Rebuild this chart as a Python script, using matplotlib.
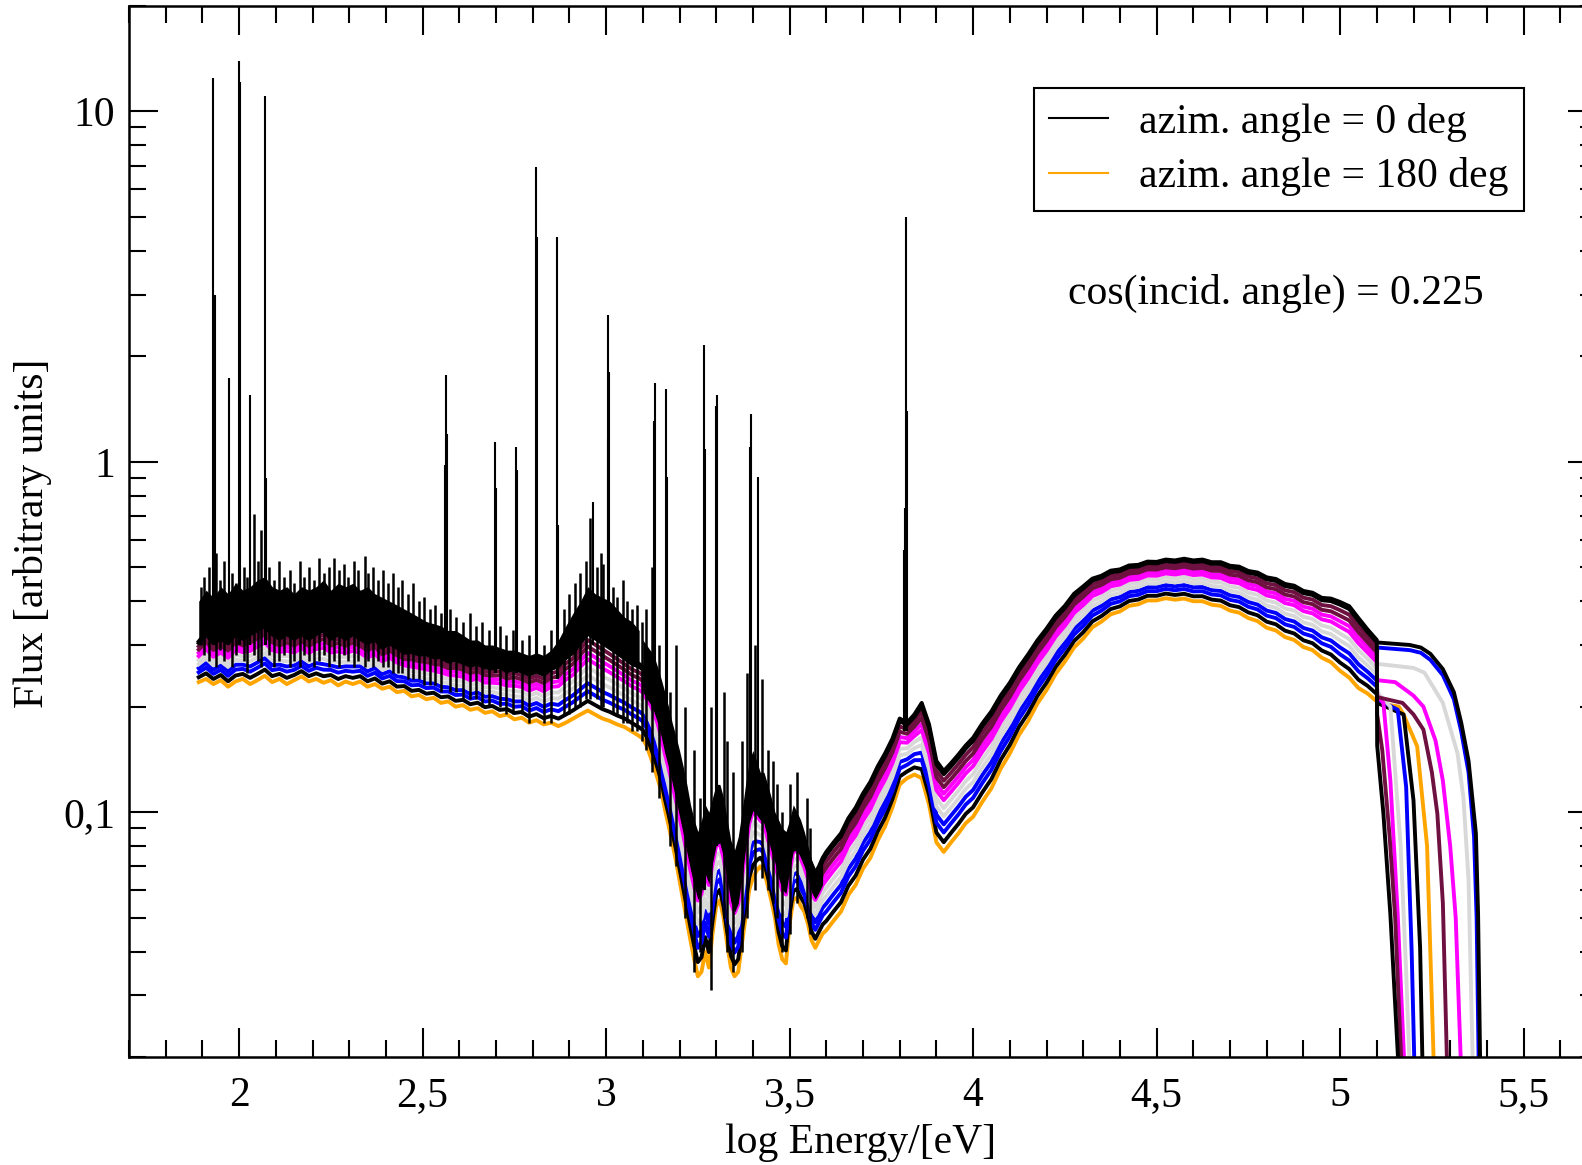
import numpy as np
import matplotlib.pyplot as plt
from matplotlib.ticker import MultipleLocator, LogLocator, NullFormatter

plt.rcParams['font.family'] = ['Liberation Serif', 'DejaVu Serif']

###################################################################
# data

# band edges (top = upper black curve, bot = lower orange curve), log Energy knots
segA_x = [1.89, 1.91, 1.93, 1.95, 1.97, 1.99, 2.01, 2.03, 2.05, 2.07, 2.09, 2.11, 2.13, 2.15, 2.17,
          2.19, 2.21, 2.23, 2.25, 2.27, 2.29, 2.31, 2.33, 2.35, 2.37, 2.39, 2.41, 2.43, 2.45, 2.47,
          2.49, 2.51, 2.53, 2.55, 2.57, 2.59, 2.61, 2.63, 2.65, 2.67, 2.69, 2.71, 2.73, 2.75, 2.77,
          2.79, 2.81, 2.83, 2.85, 2.87, 2.89, 2.91, 2.93, 2.95, 2.97, 2.99, 3.01, 3.03, 3.05, 3.07, 3.09]
top_A = [0.307, 0.326, 0.307, 0.316, 0.307, 0.326, 0.316, 0.326, 0.335, 0.344, 0.326, 0.316, 0.326, 0.316, 0.326,
         0.316, 0.326, 0.335, 0.316, 0.326, 0.316, 0.326, 0.316, 0.307, 0.316, 0.298, 0.307, 0.298, 0.288, 0.29,
         0.285, 0.285, 0.28, 0.28, 0.272, 0.275, 0.27, 0.265, 0.268, 0.262, 0.26, 0.263, 0.255, 0.26, 0.255,
         0.25, 0.255, 0.25, 0.26, 0.265, 0.28, 0.29, 0.31, 0.33, 0.32, 0.31, 0.30, 0.29, 0.28, 0.27, 0.265]
bot_A = [0.235, 0.24, 0.232, 0.238, 0.228, 0.236, 0.24, 0.232, 0.238, 0.245, 0.235, 0.24, 0.232, 0.238, 0.244,
         0.236, 0.24, 0.234, 0.238, 0.23, 0.236, 0.232, 0.236, 0.228, 0.232, 0.225, 0.228, 0.22, 0.222, 0.214,
         0.216, 0.21, 0.212, 0.205, 0.207, 0.2, 0.202, 0.196, 0.198, 0.192, 0.194, 0.188, 0.19, 0.184, 0.186,
         0.18, 0.183, 0.178, 0.18, 0.176, 0.18, 0.185, 0.19, 0.195, 0.19, 0.185, 0.182, 0.178, 0.175, 0.17, 0.165]
# upper edge of the dense black noise above the band
env_A = [0.40, 0.43, 0.41, 0.44, 0.42, 0.45, 0.43, 0.44, 0.46, 0.47, 0.44, 0.43, 0.44, 0.42, 0.44,
         0.43, 0.44, 0.46, 0.43, 0.45, 0.44, 0.45, 0.43, 0.44, 0.42, 0.41, 0.40, 0.39, 0.38, 0.37,
         0.36, 0.35, 0.345, 0.34, 0.33, 0.33, 0.32, 0.31, 0.31, 0.30, 0.30, 0.295, 0.29, 0.29, 0.285,
         0.28, 0.285, 0.28, 0.29, 0.31, 0.34, 0.37, 0.40, 0.44, 0.42, 0.41, 0.40, 0.38, 0.36, 0.35, 0.33]

segB_x = [3.10, 3.11, 3.12, 3.13, 3.14, 3.15, 3.16, 3.17, 3.18, 3.19, 3.20, 3.21, 3.22, 3.23, 3.24,
          3.25, 3.26, 3.27, 3.28, 3.29, 3.30, 3.31, 3.32, 3.33, 3.34, 3.35, 3.36, 3.37, 3.38, 3.39,
          3.40, 3.41, 3.42, 3.43, 3.44, 3.45, 3.46, 3.47, 3.48, 3.49, 3.50, 3.51, 3.52, 3.53, 3.54,
          3.55, 3.56, 3.57, 3.58, 3.59]
top_B = [0.26, 0.25, 0.245, 0.235, 0.22, 0.2, 0.18, 0.165, 0.15, 0.135, 0.122, 0.11, 0.098, 0.088, 0.08,
         0.074, 0.078, 0.088, 0.084, 0.092, 0.1, 0.1, 0.092, 0.08, 0.07, 0.065, 0.07, 0.082, 0.1, 0.118,
         0.128, 0.12, 0.112, 0.11, 0.1, 0.092, 0.087, 0.082, 0.077, 0.075, 0.082, 0.092, 0.092, 0.088, 0.082,
         0.076, 0.07, 0.067, 0.07, 0.074]
bot_B = [0.162, 0.155, 0.145, 0.135, 0.125, 0.115, 0.102, 0.092, 0.082, 0.073, 0.064, 0.056, 0.049, 0.043, 0.038,
         0.034, 0.035, 0.04, 0.036, 0.045, 0.054, 0.056, 0.05, 0.042, 0.036, 0.034, 0.035, 0.042, 0.05, 0.06,
         0.065, 0.068, 0.07, 0.068, 0.062, 0.056, 0.05, 0.042, 0.038, 0.037, 0.048, 0.056, 0.057, 0.054, 0.052,
         0.048, 0.043, 0.041, 0.043, 0.045]
env_B = [0.31, 0.30, 0.29, 0.28, 0.26, 0.24, 0.22, 0.2, 0.18, 0.165, 0.15, 0.135, 0.12, 0.105, 0.095,
         0.088, 0.095, 0.105, 0.1, 0.11, 0.12, 0.12, 0.11, 0.095, 0.083, 0.078, 0.085, 0.1, 0.12, 0.14,
         0.15, 0.14, 0.13, 0.13, 0.12, 0.11, 0.1, 0.095, 0.09, 0.088, 0.095, 0.105, 0.1, 0.095, 0.088,
         0.08, 0.073, 0.069, 0.071, 0.074]

segC_x = [3.60, 3.62, 3.64, 3.66, 3.68, 3.70, 3.72, 3.74, 3.76, 3.78,
          3.80, 3.82, 3.84, 3.86, 3.88, 3.90, 3.92, 3.94, 3.96, 3.98]
top_C = [0.077, 0.082, 0.087, 0.096, 0.103, 0.113, 0.122, 0.135, 0.147, 0.162,
         0.185, 0.18, 0.19, 0.205, 0.178, 0.14, 0.131, 0.138, 0.146, 0.155]
bot_C = [0.046, 0.049, 0.052, 0.058, 0.062, 0.069, 0.074, 0.083, 0.091, 0.103,
         0.12, 0.125, 0.128, 0.125, 0.105, 0.082, 0.077, 0.082, 0.087, 0.093]

segD_x = [4.000, 4.025, 4.050, 4.075, 4.100, 4.125, 4.150, 4.175, 4.200, 4.225, 4.250, 4.275, 4.300,
          4.325, 4.350, 4.375, 4.400, 4.425, 4.450, 4.475, 4.500, 4.525, 4.550, 4.575, 4.600, 4.625,
          4.650, 4.675, 4.700, 4.725, 4.750, 4.775, 4.800, 4.825, 4.850, 4.875, 4.900, 4.925, 4.950,
          4.975, 5.000, 5.025, 5.050, 5.075, 5.100]
top_D = [0.163, 0.179, 0.194, 0.215, 0.234, 0.259, 0.282, 0.309, 0.334, 0.364, 0.388, 0.42, 0.441,
         0.464, 0.473, 0.489, 0.493, 0.506, 0.508, 0.519, 0.518, 0.526, 0.523, 0.529, 0.523, 0.526,
         0.517, 0.517, 0.505, 0.502, 0.488, 0.483, 0.468, 0.463, 0.448, 0.443, 0.428, 0.423, 0.409,
         0.407, 0.398, 0.387, 0.358, 0.332, 0.31]
bot_D = [0.097, 0.107, 0.117, 0.133, 0.147, 0.166, 0.182, 0.204, 0.223, 0.248, 0.269, 0.295, 0.313,
         0.337, 0.35, 0.367, 0.374, 0.388, 0.392, 0.402, 0.402, 0.408, 0.404, 0.407, 0.4, 0.4,
         0.391, 0.388, 0.376, 0.371, 0.358, 0.351, 0.336, 0.33, 0.316, 0.31, 0.296, 0.29, 0.276,
         0.268, 0.253, 0.242, 0.226, 0.218, 0.207]

# high-energy tails of each curve, beyond log E = 5.1
tail_x_black1 = [5.101, 5.118, 5.137, 5.16]
tail_y_black1 = [0.155, 0.099, 0.051, 0.018]
tail_x_maroon1 = [5.101, 5.115, 5.135, 5.15, 5.168]
tail_y_maroon1 = [0.19, 0.15, 0.085, 0.05, 0.018]
tail_x_magenta1 = [5.101, 5.118, 5.137, 5.157, 5.176]
tail_y_magenta1 = [0.215, 0.205, 0.123, 0.051, 0.018]
tail_x_gray1 = [5.101, 5.137, 5.165, 5.18, 5.19]
tail_y_gray1 = [0.22, 0.2, 0.08, 0.035, 0.018]
tail_x_blue1 = [5.101, 5.157, 5.18, 5.195, 5.203]
tail_y_blue1 = [0.21, 0.196, 0.118, 0.04, 0.018]
tail_x_black2 = [5.101, 5.173, 5.20, 5.218, 5.225]
tail_y_black2 = [0.205, 0.19, 0.108, 0.041, 0.018]
tail_x_orange = [5.101, 5.16, 5.173, 5.21, 5.237, 5.256]
tail_y_orange = [0.205, 0.2, 0.19, 0.154, 0.08, 0.018]
tail_x_maroon2 = [5.101, 5.17, 5.20, 5.227, 5.25, 5.265, 5.28, 5.292]
tail_y_maroon2 = [0.213, 0.205, 0.19, 0.172, 0.13, 0.099, 0.055, 0.018]
tail_x_magenta2 = [5.101, 5.15, 5.20, 5.227, 5.26, 5.28, 5.30, 5.315, 5.33]
tail_y_magenta2 = [0.238, 0.235, 0.215, 0.2, 0.16, 0.123, 0.08, 0.05, 0.018]
tail_x_gray2 = [5.101, 5.20, 5.23, 5.28, 5.32, 5.336, 5.35, 5.362]
tail_y_gray2 = [0.265, 0.258, 0.25, 0.205, 0.147, 0.11, 0.064, 0.018]
tail_x_blue2 = [5.101, 5.19, 5.22, 5.246, 5.28, 5.31, 5.33, 5.35, 5.365, 5.372, 5.378]
tail_y_blue2 = [0.295, 0.29, 0.285, 0.272, 0.246, 0.21, 0.17, 0.13, 0.085, 0.05, 0.018]
tail_x_black3 = [5.101, 5.19, 5.22, 5.246, 5.28, 5.31, 5.33, 5.35, 5.37, 5.376, 5.382]
tail_y_black3 = [0.305, 0.30, 0.295, 0.283, 0.256, 0.22, 0.18, 0.14, 0.087, 0.051, 0.018]

# strong emission lines (black)
line_x = [1.930, 1.933, 1.973, 2.000, 2.003, 2.029, 2.071, 2.074, 2.560, 2.563, 2.566, 2.698, 2.700,
          2.754, 2.757, 2.810, 2.813, 2.867, 2.870, 2.965, 3.004, 3.006, 3.009, 3.131, 3.134, 3.163,
          3.166, 3.267, 3.270, 3.299, 3.302, 3.391, 3.394, 3.415, 3.812, 3.815, 3.818, 3.821]
line_hi = [12.5, 3.0, 1.74, 13.9, 12.1, 1.55, 11.1, 0.9, 0.98, 1.77, 1.2, 1.14, 0.84,
           1.10, 0.95, 6.93, 4.37, 4.37, 0.66, 0.77, 1.16, 2.62, 1.8, 1.31, 1.68, 1.61,
           0.906, 2.16, 1.09, 1.44, 1.55, 1.10, 1.37, 0.906, 0.56, 0.74, 5.0, 1.40]
line_lo = [0.3, 0.3, 0.3, 0.3, 0.3, 0.3, 0.3, 0.3, 0.27, 0.27, 0.27, 0.25, 0.25,
           0.25, 0.25, 0.25, 0.25, 0.24, 0.24, 0.3, 0.3, 0.3, 0.3, 0.2, 0.2, 0.15,
           0.15, 0.06, 0.06, 0.08, 0.08, 0.1, 0.1, 0.1, 0.17, 0.17, 0.17, 0.17]

# noisy black forest on top of the band
forest_x = [1.895, 1.905, 1.918, 1.938, 1.948, 1.958, 1.982, 1.992, 2.012, 2.022, 2.04, 2.052, 2.06,
            2.082, 2.095, 2.11, 2.122, 2.138, 2.15, 2.165, 2.178, 2.19, 2.205, 2.218, 2.232, 2.245,
            2.258, 2.272, 2.285, 2.298, 2.312, 2.325, 2.343, 2.352, 2.365, 2.378, 2.392, 2.405, 2.418,
            2.432, 2.445, 2.46, 2.474, 2.49, 2.505, 2.52, 2.535, 2.55, 2.575, 2.592, 2.61, 2.628,
            2.645, 2.662, 2.68, 2.712, 2.728, 2.745, 2.77, 2.79, 2.83, 2.85, 2.885, 2.90, 2.915,
            2.93, 2.945, 2.955, 2.975, 2.985, 2.992, 3.02, 3.029, 3.045, 3.056, 3.07, 3.084, 3.097,
            3.11, 3.125, 3.145, 3.175, 3.19, 3.215, 3.24, 3.255, 3.285, 3.32, 3.33, 3.345, 3.37,
            3.385, 3.405, 3.425, 3.44, 3.455, 3.465, 3.48, 3.50, 3.52, 3.547, 3.555]
forest_lo = [0.30, 0.28, 0.27, 0.26, 0.29, 0.27, 0.26, 0.28, 0.27, 0.25, 0.28, 0.27, 0.26,
             0.28, 0.26, 0.27, 0.28, 0.26, 0.27, 0.26, 0.28, 0.27, 0.26, 0.27, 0.28, 0.26,
             0.27, 0.26, 0.28, 0.27, 0.26, 0.27, 0.26, 0.27, 0.26, 0.27, 0.26, 0.26, 0.25,
             0.25, 0.25, 0.24, 0.24, 0.24, 0.23, 0.23, 0.23, 0.22, 0.22, 0.22, 0.21, 0.21,
             0.21, 0.20, 0.20, 0.20, 0.19, 0.19, 0.19, 0.18, 0.18, 0.18, 0.19, 0.19, 0.20,
             0.20, 0.21, 0.21, 0.21, 0.20, 0.20, 0.19, 0.19, 0.18, 0.18, 0.17, 0.17, 0.16,
             0.15, 0.13, 0.11, 0.08, 0.07, 0.05, 0.035, 0.04, 0.031, 0.05, 0.04, 0.035, 0.04,
             0.05, 0.06, 0.065, 0.06, 0.055, 0.05, 0.04, 0.045, 0.055, 0.05, 0.045]
forest_hi = [0.44, 0.47, 0.50, 0.55, 0.46, 0.52, 0.48, 0.45, 0.50, 0.47, 0.71, 0.52, 0.64,
             0.50, 0.46, 0.52, 0.47, 0.49, 0.45, 0.52, 0.47, 0.50, 0.46, 0.53, 0.48, 0.50,
             0.53, 0.49, 0.51, 0.47, 0.52, 0.49, 0.54, 0.48, 0.50, 0.46, 0.49, 0.45, 0.48,
             0.44, 0.46, 0.42, 0.45, 0.40, 0.41, 0.38, 0.39, 0.37, 0.38, 0.36, 0.35, 0.37,
             0.34, 0.35, 0.33, 0.34, 0.32, 0.33, 0.31, 0.32, 0.30, 0.33, 0.38, 0.42, 0.45,
             0.48, 0.52, 0.69, 0.50, 0.55, 0.51, 0.44, 0.41, 0.46, 0.40, 0.38, 0.39, 0.35,
             0.38, 0.50, 0.30, 0.22, 0.30, 0.20, 0.15, 0.11, 0.20, 0.22, 0.16, 0.13, 0.16,
             0.25, 0.30, 0.24, 0.15, 0.14, 0.12, 0.10, 0.12, 0.13, 0.11, 0.09]

# tick labels (comma decimals as in the original)
xtick_vals = [2, 2.5, 3, 3.5, 4, 4.5, 5, 5.5]
xtick_labels = ['2', '2,5', '3', '3,5', '4', '4,5', '5', '5,5']
ytick_vals = [0.1, 1, 10]
ytick_labels = ['0,1', '1', '10']

legend_labels = ['azim. angle = 0 deg', 'azim. angle = 180 deg']

###################################################################

W, H = 1582, 1165
fig = plt.figure(figsize=(W / 100, H / 100), dpi=100)
# axes run a bit past the right edge, like the cropped original
ax = fig.add_axes([129 / W, 1 - 1057 / H, (1597 - 129) / W, (1057 - 6) / H])

x_body = np.array(segA_x + segB_x + segC_x + segD_x)
top = np.array(top_A + top_B + top_C + top_D)
bot = np.array(bot_A + bot_B + bot_C + bot_D)


def band(t, b, f):
    # position f inside the band, 0 = top edge, 1 = bottom edge (log spacing)
    return np.exp((1 - f) * np.log(np.asarray(t)) + f * np.log(np.asarray(b)))


maroon = '#6e1040'
gray = '#d8d8d8'
# colour, position inside the band (0 top .. 1 bottom), tail
curves = [
    ('#ffa500', 1.00, tail_x_orange, tail_y_orange),
    ('black', 0.88, tail_x_black2, tail_y_black2),
    ('blue', 0.76, tail_x_blue2, tail_y_blue2),
    ('blue', 0.66, tail_x_blue1, tail_y_blue1),
    (gray, 0.56, tail_x_gray2, tail_y_gray2),
    (gray, 0.46, tail_x_gray1, tail_y_gray1),
    ('magenta', 0.36, tail_x_magenta2, tail_y_magenta2),
    ('magenta', 0.28, tail_x_magenta1, tail_y_magenta1),
    (maroon, 0.20, tail_x_maroon2, tail_y_maroon2),
    (maroon, 0.12, tail_x_maroon1, tail_y_maroon1),
    ('black', 0.04, tail_x_black1, tail_y_black1),
    ('black', 0.00, tail_x_black3, tail_y_black3),
]

handles = {}
for color, f, tx, ty in curves:
    yb = band(top, bot, f)
    xx = np.concatenate([x_body, tx])
    yy = np.concatenate([yb, ty])
    h, = ax.plot(xx, yy, color=color, lw=2.8, zorder=2)
    handles.setdefault(color, h)

# dense black noise of the 0 deg curve at low energies
ax.fill_between(segA_x, band(top_A, bot_A, 0.05), env_A, color='black', lw=0, zorder=2.5)
ax.fill_between(segB_x, band(top_B, bot_B, 0.35), env_B, color='black', lw=0, zorder=2.5)
ax.vlines(forest_x, forest_lo, forest_hi, color='black', lw=1.8, zorder=3)
ax.vlines(line_x, line_lo, line_hi, color='black', lw=1.5, zorder=3)

ax.set_yscale('log')
ax.set_xlim(1.7, 5.7)
ax.set_ylim(0.02, 20)

ax.set_xticks(xtick_vals)
ax.set_xticklabels(xtick_labels)
ax.xaxis.set_minor_locator(MultipleLocator(0.1))
ax.set_yticks(ytick_vals)
ax.set_yticklabels(ytick_labels)
ax.yaxis.set_minor_locator(LogLocator(base=10, subs=np.arange(2, 10)))
ax.yaxis.set_minor_formatter(NullFormatter())

ax.tick_params(which='both', direction='in', top=True, right=True, width=1.5, labelsize=30)
ax.tick_params(which='major', length=21)
ax.tick_params(which='minor', length=12)
ax.tick_params(axis='x', pad=14)
ax.tick_params(axis='y', pad=10)
for s in ax.spines.values():
    s.set_linewidth(1.8)

ax.set_xlabel('log Energy/[eV]', fontsize=30, va='center')
ax.xaxis.set_label_coords(0.4986, -0.0818)
ax.set_ylabel('Flux [arbitrary units]', fontsize=30, va='center')
ax.yaxis.set_label_coords(-0.0654, 0.4986)

leg = ax.legend([handles['black'], handles['#ffa500']], legend_labels,
                loc='upper left', bbox_to_anchor=(0.6165, 0.922), borderaxespad=0,
                fontsize=30, handlelength=1.42, handletextpad=0.75, borderpad=0.36,
                labelspacing=0.37, fancybox=False, framealpha=1, edgecolor='black')
leg.get_frame().set_linewidth(1.5)
for lh in leg.get_lines():
    lh.set_linewidth(1.5)

ax.text(0.7813, 0.7269, 'cos(incid. angle) = 0.225', transform=ax.transAxes,
        ha='center', va='center', fontsize=30)

fig.savefig('out.png', dpi=100)
